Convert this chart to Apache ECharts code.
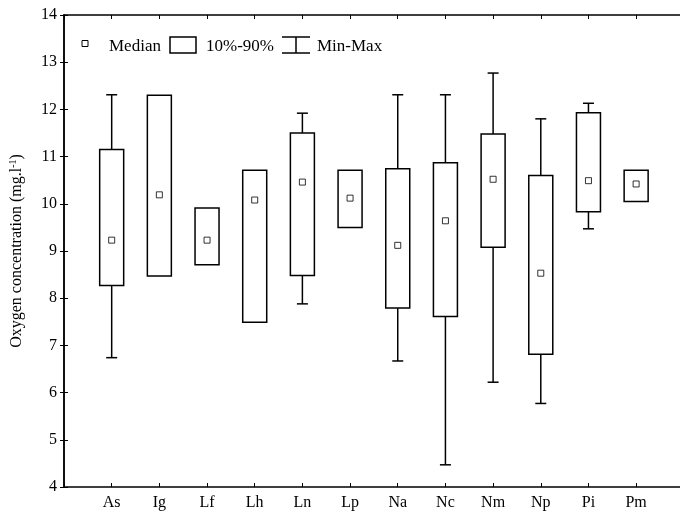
<!DOCTYPE html>
<html><head><meta charset="utf-8">
<script src="https://cdn.jsdelivr.net/npm/echarts@6/dist/echarts.min.js"></script>
<style>html,body{margin:0;padding:0;background:#fff}#c{width:680px;height:517px}</style>
</head><body><div id="c"></div>
<script>
const categories = ['As','Ig','Lf','Lh','Ln','Lp','Na','Nc','Nm','Np','Pi','Pm'];
const minVals    = [6.74, 8.47, 8.71, 7.49, 7.88, 9.50, 6.67, 4.47, 6.22, 5.77, 9.47, 10.05];
const p10Vals    = [8.27, 8.47, 8.71, 7.49, 8.48, 9.50, 7.79, 7.61, 9.08, 6.81, 9.83, 10.05];
const medianVals = [9.23, 10.19, 9.23, 10.08, 10.46, 10.12, 9.12, 9.64, 10.52, 8.53, 10.49, 10.42];
const p90Vals    = [11.15, 12.30, 9.91, 10.71, 11.50, 10.71, 10.74, 10.87, 11.48, 10.60, 11.93, 10.71];
const maxVals    = [12.31, 12.30, 9.91, 10.71, 11.92, 10.71, 12.31, 12.31, 12.77, 11.80, 12.13, 10.71];
const yMin = 4, yMax = 14, yStep = 1;
const xMin = 0, xMax = 12.92;

const FONT = "'Liberation Serif','Times New Roman',serif";
const boxData = categories.map((c, i) => [i + 1, minVals[i], p10Vals[i], medianVals[i], p90Vals[i], maxVals[i]]);
const medData = categories.map((c, i) => [i + 1, medianVals[i]]);
const catLabel = v => (Number.isInteger(v) && v >= 1 && v <= categories.length) ? categories[v - 1] : '';

const chart = echarts.init(document.getElementById('c'), null, {renderer: 'canvas'});
const lineStyle = {color: '#000', width: 1.5};
const st = {stroke: '#000', lineWidth: 1.5, fill: null};

function renderItem(params, api) {
  const x = api.value(0);
  const pMin = api.coord([x, api.value(1)]);
  const p10 = api.coord([x, api.value(2)]);
  const p90 = api.coord([x, api.value(4)]);
  const pMax = api.coord([x, api.value(5)]);
  const hb = 12, hc = 5.5;
  const cx = p10[0];
  const ch = [];
  if (api.value(5) > api.value(4)) {
    ch.push({type: 'line', shape: {x1: cx, y1: p90[1], x2: cx, y2: pMax[1]}, style: st});
    ch.push({type: 'line', shape: {x1: cx - hc, y1: pMax[1], x2: cx + hc, y2: pMax[1]}, style: st});
  }
  if (api.value(1) < api.value(2)) {
    ch.push({type: 'line', shape: {x1: cx, y1: p10[1], x2: cx, y2: pMin[1]}, style: st});
    ch.push({type: 'line', shape: {x1: cx - hc, y1: pMin[1], x2: cx + hc, y2: pMin[1]}, style: st});
  }
  ch.push({type: 'rect', shape: {x: cx - hb, y: p90[1], width: hb * 2, height: p10[1] - p90[1]},
           style: {stroke: '#000', lineWidth: 1.5, fill: '#fff'}});
  return {type: 'group', children: ch};
}

const tick = {show: true, inside: true, length: 4, lineStyle: {color: '#000', width: 1}};
const option = {
  animation: false,
  backgroundColor: '#fff',
  textStyle: {fontFamily: FONT},
  grid: {left: 63, top: 15, right: 0, bottom: 30, containLabel: false},
  xAxis: [
    {type: 'value', min: xMin, max: xMax, interval: 1, position: 'bottom',
     axisLine: {lineStyle}, axisTick: tick,
     axisLabel: {color: '#000', fontSize: 16, fontFamily: FONT, margin: 8, formatter: catLabel,
                 showMinLabel: true, showMaxLabel: false},
     splitLine: {show: false}},
    {type: 'value', min: xMin, max: xMax, interval: 1, position: 'top',
     axisLine: {lineStyle}, axisTick: tick,
     axisLabel: {show: false}, splitLine: {show: false}}
  ],
  yAxis: [
    {type: 'value', min: yMin, max: yMax, interval: yStep, position: 'left',
     axisLine: {show: true, lineStyle}, axisTick: tick,
     axisLabel: {color: '#000', fontSize: 16, fontFamily: FONT, margin: 7},
     splitLine: {show: false},
     name: '{a|Oxygen concentration (mg.l}{s|-1}{a|)}', nameLocation: 'middle', nameRotate: 90, nameGap: 38,
     nameTextStyle: {rich: {a: {fontSize: 16, fontFamily: FONT, color: '#000'}, s: {fontSize: 10, fontFamily: FONT, color: '#000', padding: [0, 0, 8, 0]}}}},
    {type: 'value', min: yMin, max: yMax, interval: yStep, position: 'right',
     axisLine: {show: true, lineStyle}, axisTick: tick,
     axisLabel: {show: false}, splitLine: {show: false}}
  ],
  series: [
    {type: 'custom', name: '10%-90%', renderItem, data: boxData, xAxisIndex: 0, yAxisIndex: 0,
     encode: {x: 0, y: [1, 2, 3, 4, 5]}, clip: false, z: 2},
    {type: 'scatter', name: 'Median', data: medData, xAxisIndex: 0, yAxisIndex: 0,
     symbol: 'rect', symbolSize: 6, itemStyle: {color: '#fff', borderColor: '#000', borderWidth: 1}, z: 3}
  ],
  graphic: [
    {type: 'rect', shape: {x: 82, y: 40.5, width: 6, height: 6}, style: {fill: '#fff', stroke: '#000', lineWidth: 1}},
    {type: 'text', x: 109, y: 47, style: {text: 'Median', font: '17px ' + FONT, fill: '#000', textVerticalAlign: 'middle'}},
    {type: 'rect', shape: {x: 170, y: 37, width: 26, height: 16}, style: {fill: '#fff', stroke: '#000', lineWidth: 1.5}},
    {type: 'text', x: 206, y: 47, style: {text: '10%-90%', font: '17px ' + FONT, fill: '#000', textVerticalAlign: 'middle'}},
    {type: 'line', shape: {x1: 282, y1: 37, x2: 310, y2: 37}, style: {stroke: '#000', lineWidth: 1.5}},
    {type: 'line', shape: {x1: 296, y1: 37, x2: 296, y2: 53}, style: {stroke: '#000', lineWidth: 1.5}},
    {type: 'line', shape: {x1: 282, y1: 53, x2: 310, y2: 53}, style: {stroke: '#000', lineWidth: 1.5}},
    {type: 'text', x: 317, y: 47, style: {text: 'Min-Max', font: '17px ' + FONT, fill: '#000', textVerticalAlign: 'middle'}}
  ]
};
chart.setOption(option);
</script></body></html>
